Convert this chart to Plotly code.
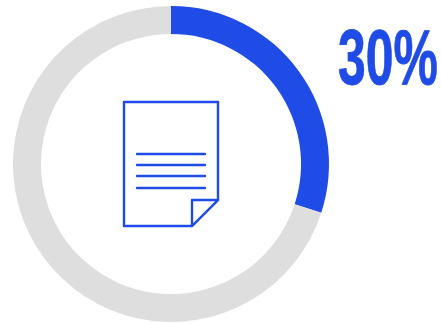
import plotly.graph_objects as go

# Donut share
labels = ["Documents", "Other"]
values = [30, 70]
share_label = "30%"

BLUE = "#1f4be6"
GREY = "#dedede"
W, H = 441, 324

# Page icon geometry in pixel-like axis units
page_outline = "M124,102 L218,102 L218,200 L192,226 L124,226 Z"
page_fold = "M192,226 L192,200 L218,200 Z"
text_rows = [154, 165, 176, 188]
row_start, row_end = 137, 205

fig = go.Figure()
fig.add_trace(go.Pie(
    labels=labels, values=values, hole=0.823, sort=False, direction="clockwise",
    rotation=0, marker=dict(colors=[BLUE, GREY], line=dict(width=0)),
    textinfo="none", hoverinfo="none", showlegend=False,
    domain=dict(x=[13 / W, 329 / W], y=[2 / H, 318 / H]),
))

shapes = [
    dict(type="path", path=page_outline, line=dict(color=BLUE, width=2.4), xref="x", yref="y"),
    dict(type="path", path=page_fold, line=dict(color=BLUE, width=2.4), fillcolor="white", xref="x", yref="y"),
]
for row in text_rows:
    shapes.append(dict(type="line", x0=row_start, x1=row_end, y0=row, y1=row,
                       line=dict(color=BLUE, width=2.4), xref="x", yref="y"))

fig.update_layout(
    width=W, height=H, margin=dict(l=0, r=0, t=0, b=0),
    paper_bgcolor="white", plot_bgcolor="rgba(0,0,0,0)", showlegend=False,
    xaxis=dict(range=[0, W], visible=False, fixedrange=True),
    yaxis=dict(range=[H, 0], visible=False, fixedrange=True),
    shapes=shapes,
    annotations=[dict(
        text=f"<b>{share_label}</b>", x=388, y=57, xref="x", yref="y",
        xanchor="center", yanchor="middle", showarrow=False,
        font=dict(family="Liberation Sans", size=78, color=BLUE),
    )],
)
# The axes carry the icon shapes, so keep a trace-free cartesian subplot visible
fig.add_trace(go.Scatter(x=[None], y=[None], hoverinfo="skip", showlegend=False))

# Condense the headline figure horizontally around its own centre and round the icon's strokes
condense = """
var gd = document.querySelector('.plotly-graph-div');
function tweak() {
  gd.querySelectorAll('.annotation-text').forEach(function (t) {
    var b = t.getBBox(), c = b.x + b.width / 2;
    t.setAttribute('transform', 'translate(' + c + ',0) scale(0.64,1) translate(' + (-c) + ',0)');
    t.style.stroke = '#1f4be6';
    t.style.strokeWidth = '0.8px';
  });
  gd.querySelectorAll('.shapelayer path').forEach(function (p) {
    p.style.strokeLinecap = 'round';
    p.style.strokeLinejoin = 'round';
  });
}
tweak();
"""

fig.write_html("out.html", config=dict(displayModeBar=False), post_script=condense)
